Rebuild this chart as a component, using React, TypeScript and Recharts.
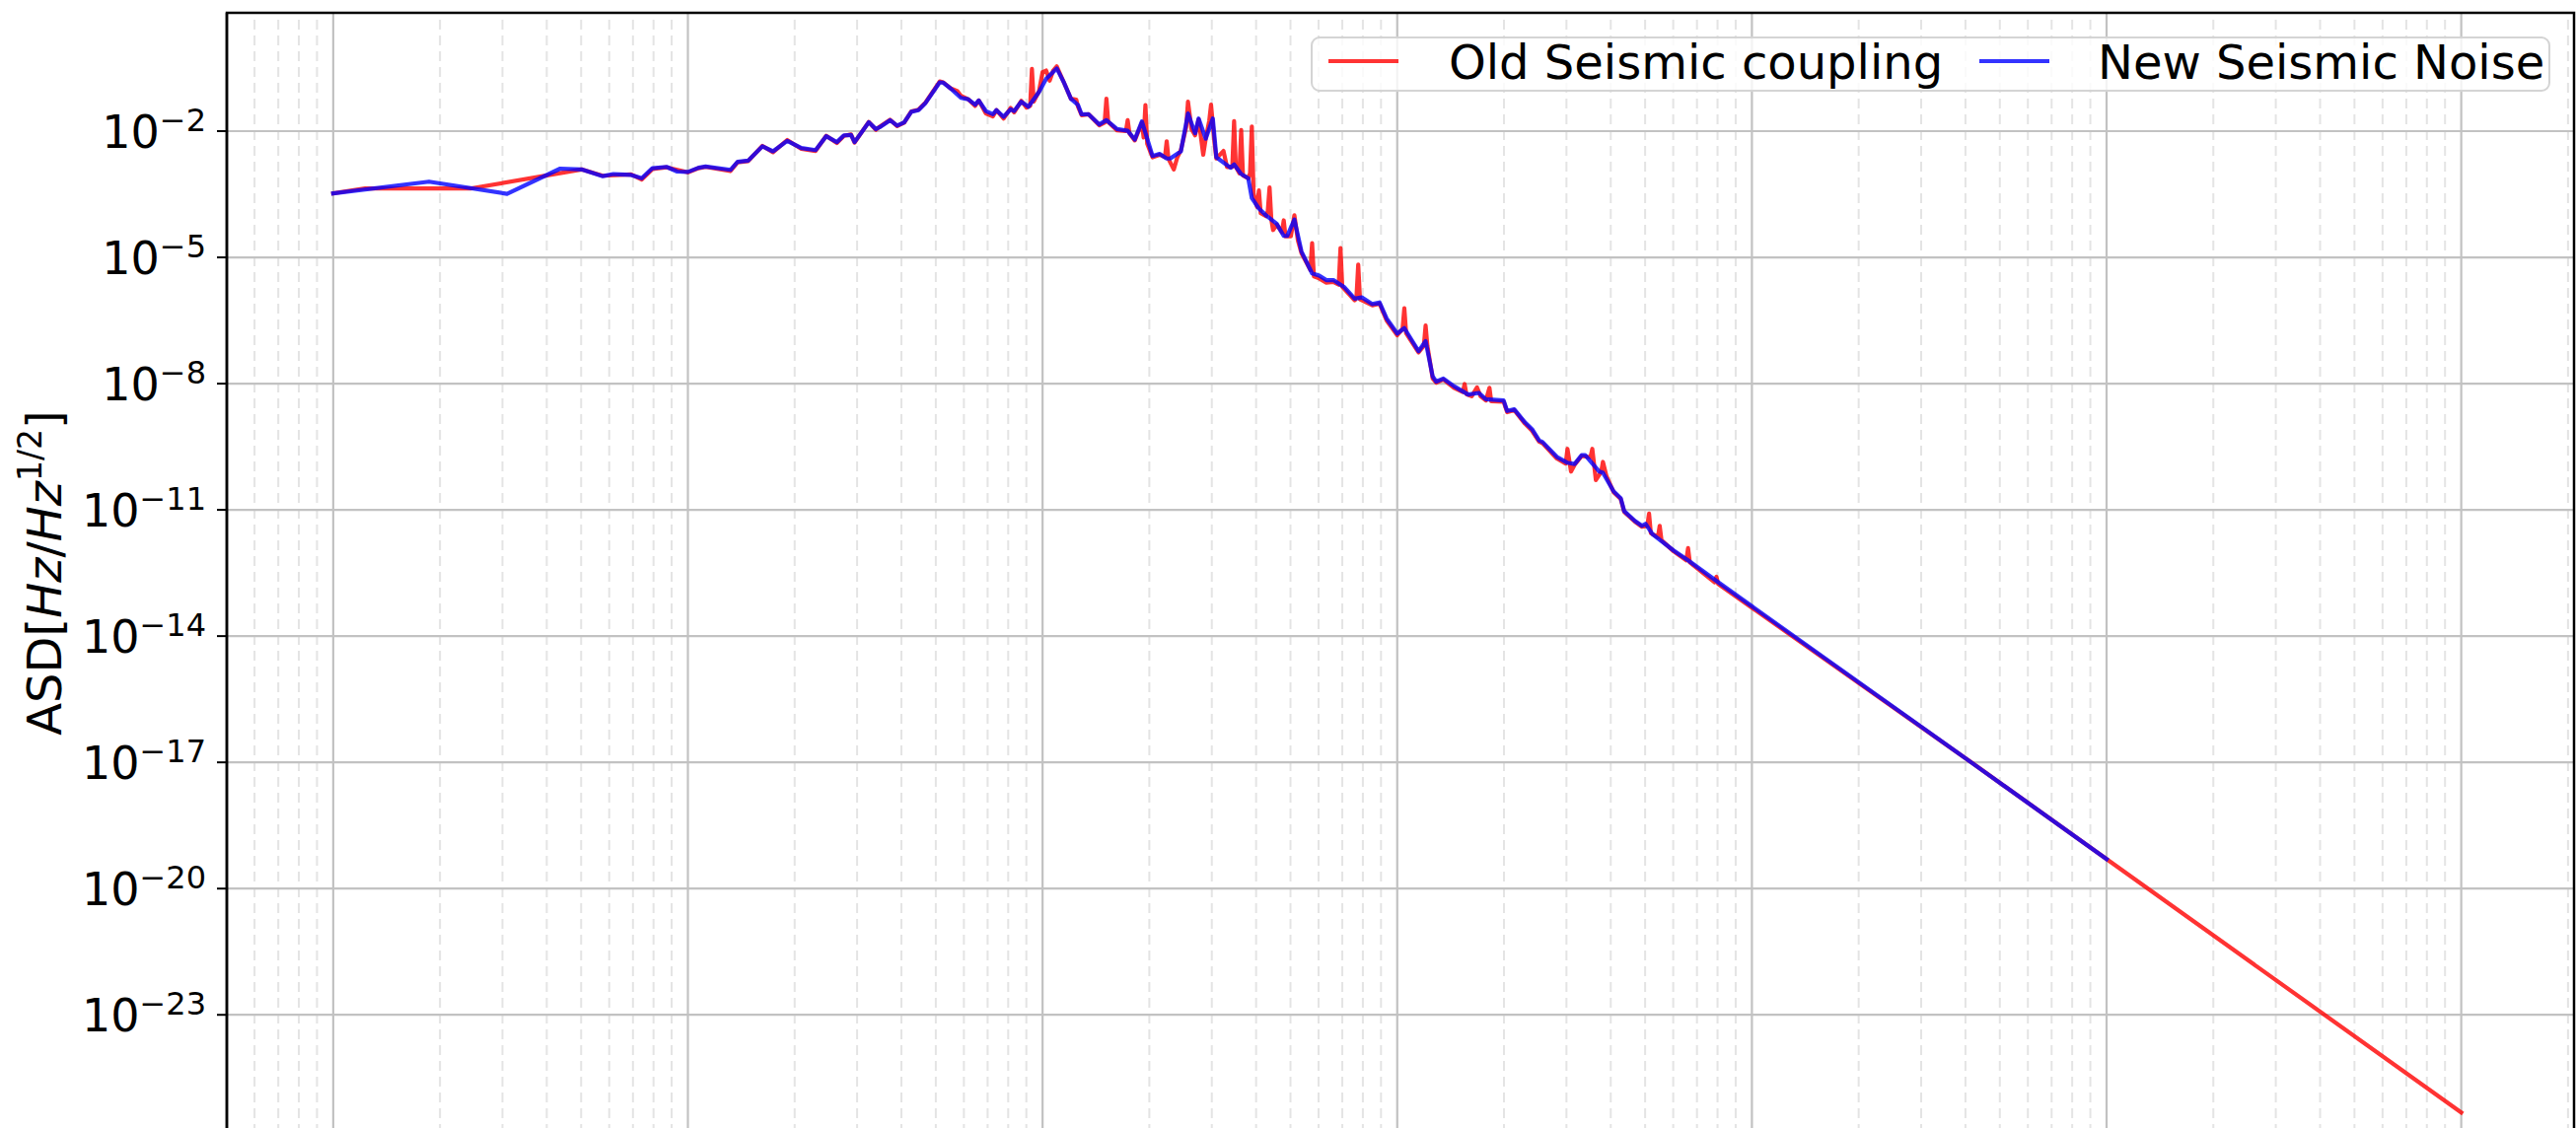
import React from 'react';
import { LineChart, Line, XAxis, YAxis, ReferenceLine, ReferenceArea, Legend } from 'recharts';

const FONT = '"DejaVu Sans", "Liberation Sans", sans-serif';

// points as [log10(freq), log10(ASD)]
const oldCoupling: [number, number][] = [
    [-3.0, -3.48], [-2.91, -3.36], [-2.61, -3.36], [-2.3, -2.91], [-2.24, -3.06], [-2.16, -3.03],
    [-2.13, -3.15], [-2.1, -2.9], [-2.06, -2.86], [-2.0, -2.98], [-1.97, -2.88], [-1.95, -2.85],
    [-1.88, -2.95], [-1.86, -2.74], [-1.83, -2.71], [-1.79, -2.35], [-1.76, -2.5], [-1.72, -2.21],
    [-1.68, -2.42], [-1.64, -2.47], [-1.61, -2.11], [-1.58, -2.28], [-1.56, -2.11], [-1.54, -2.08],
    [-1.53, -2.27], [-1.49, -1.78], [-1.47, -1.97], [-1.46, -1.9], [-1.43, -1.73], [-1.41, -1.88],
    [-1.39, -1.8], [-1.37, -1.53], [-1.35, -1.49], [-1.33, -1.32], [-1.29, -0.82], [-1.28, -0.84],
    [-1.26, -0.98], [-1.24, -1.05], [-1.23, -1.16], [-1.21, -1.24], [-1.19, -1.4], [-1.18, -1.27],
    [-1.16, -1.58], [-1.14, -1.65], [-1.13, -1.5], [-1.11, -1.7], [-1.09, -1.45], [-1.08, -1.55],
    [-1.06, -1.28], [-1.045, -1.44], [-1.035, -1.4], [-1.03, -0.52], [-1.025, -1.3], [-1.01, -1.05],
    [-1.0, -0.6], [-0.99, -0.56], [-0.98, -0.8], [-0.97, -0.56], [-0.96, -0.46], [-0.94, -0.84],
    [-0.92, -1.23], [-0.905, -1.25], [-0.9, -1.42], [-0.89, -1.62], [-0.87, -1.6], [-0.84, -1.86],
    [-0.825, -1.8], [-0.82, -1.23], [-0.815, -1.78], [-0.79, -1.98], [-0.765, -2.0], [-0.76, -1.74],
    [-0.755, -2.05], [-0.74, -2.22], [-0.72, -1.8], [-0.715, -2.15], [-0.71, -1.38], [-0.705, -2.3],
    [-0.69, -2.62], [-0.67, -2.56], [-0.655, -2.62], [-0.65, -2.24], [-0.645, -2.66], [-0.63, -2.91],
    [-0.62, -2.62], [-0.61, -2.45], [-0.595, -1.9], [-0.59, -1.3], [-0.58, -1.95], [-0.57, -2.1],
    [-0.56, -1.72], [-0.547, -2.56], [-0.54, -2.18], [-0.53, -1.75], [-0.525, -1.37], [-0.515, -2.3],
    [-0.51, -2.65], [-0.49, -2.47], [-0.48, -2.85], [-0.465, -2.85], [-0.46, -1.76], [-0.455, -2.85],
    [-0.445, -3.0], [-0.44, -1.97], [-0.435, -3.05], [-0.42, -3.12], [-0.415, -3.0], [-0.41, -1.89],
    [-0.405, -3.5], [-0.395, -3.8], [-0.39, -3.41], [-0.385, -3.95], [-0.37, -4.02], [-0.365, -3.9],
    [-0.36, -3.34], [-0.355, -4.1], [-0.35, -4.35], [-0.34, -4.22], [-0.325, -4.4], [-0.32, -4.12],
    [-0.315, -4.5], [-0.3, -4.5], [-0.29, -4.0], [-0.28, -4.6], [-0.27, -4.9], [-0.245, -5.3],
    [-0.24, -4.66], [-0.235, -5.45], [-0.22, -5.5], [-0.2, -5.6], [-0.18, -5.58], [-0.165, -5.65],
    [-0.16, -4.78], [-0.155, -5.7], [-0.12, -6.02], [-0.115, -5.95], [-0.11, -5.17], [-0.105, -6.0],
    [-0.07, -6.14], [-0.05, -6.1], [-0.03, -6.5], [0.0, -6.85], [0.015, -6.7], [0.02, -6.21],
    [0.025, -6.8], [0.06, -7.26], [0.075, -7.1], [0.08, -6.62], [0.085, -7.1], [0.1, -7.88],
    [0.11, -7.98], [0.13, -7.9], [0.16, -8.1], [0.185, -8.2], [0.19, -8.01], [0.195, -8.25],
    [0.21, -8.3], [0.225, -8.09], [0.235, -8.3], [0.25, -8.4], [0.26, -8.1], [0.265, -8.42],
    [0.3, -8.43], [0.31, -8.68], [0.33, -8.63], [0.36, -8.95], [0.38, -9.12], [0.4, -9.38],
    [0.41, -9.42], [0.45, -9.78], [0.475, -9.9], [0.48, -9.55], [0.49, -10.09], [0.5, -9.93],
    [0.52, -9.72], [0.545, -9.75], [0.55, -9.55], [0.56, -10.29], [0.575, -10.1], [0.58, -9.86],
    [0.59, -10.2], [0.61, -10.58], [0.63, -10.74], [0.64, -11.05], [0.67, -11.28], [0.69, -11.4],
    [0.705, -11.38], [0.71, -11.09], [0.715, -11.55], [0.735, -11.65], [0.74, -11.38], [0.745, -11.72],
    [0.78, -11.99], [0.815, -12.2], [0.82, -11.91], [0.825, -12.25], [0.895, -12.72], [0.9, -12.59],
    [0.905, -12.76], [1.62, -17.01], [2.0, -19.3], [3.0, -25.32],
];

const newNoise: [number, number][] = [
    [-3.0, -3.48], [-2.73, -3.2], [-2.51, -3.49], [-2.36, -2.89], [-2.3, -2.91], [-2.24, -3.07],
    [-2.21, -3.02], [-2.16, -3.04], [-2.13, -3.12], [-2.1, -2.88], [-2.06, -2.85], [-2.03, -2.96],
    [-2.0, -2.97], [-1.97, -2.87], [-1.95, -2.84], [-1.88, -2.92], [-1.86, -2.73], [-1.83, -2.7],
    [-1.79, -2.36], [-1.76, -2.48], [-1.72, -2.23], [-1.68, -2.4], [-1.64, -2.45], [-1.61, -2.12],
    [-1.58, -2.26], [-1.56, -2.1], [-1.54, -2.09], [-1.53, -2.26], [-1.49, -1.79], [-1.47, -1.95],
    [-1.46, -1.91], [-1.43, -1.74], [-1.41, -1.87], [-1.39, -1.79], [-1.37, -1.54], [-1.35, -1.5],
    [-1.33, -1.33], [-1.29, -0.84], [-1.28, -0.85], [-1.26, -0.98], [-1.23, -1.21], [-1.21, -1.24],
    [-1.19, -1.37], [-1.18, -1.27], [-1.16, -1.52], [-1.14, -1.6], [-1.13, -1.5], [-1.11, -1.66],
    [-1.09, -1.48], [-1.08, -1.52], [-1.06, -1.3], [-1.04, -1.42], [-1.01, -1.07], [-0.99, -0.76],
    [-0.96, -0.51], [-0.94, -0.84], [-0.92, -1.23], [-0.9, -1.38], [-0.89, -1.6], [-0.87, -1.6],
    [-0.84, -1.84], [-0.82, -1.74], [-0.79, -1.95], [-0.76, -1.99], [-0.74, -2.2], [-0.72, -1.77],
    [-0.69, -2.59], [-0.67, -2.54], [-0.65, -2.65], [-0.64, -2.65], [-0.61, -2.48], [-0.59, -1.58],
    [-0.57, -2.05], [-0.56, -1.7], [-0.54, -2.18], [-0.52, -1.7], [-0.51, -2.62], [-0.47, -2.87],
    [-0.46, -2.79], [-0.44, -3.02], [-0.42, -3.12], [-0.41, -3.59], [-0.39, -3.84], [-0.37, -4.0],
    [-0.34, -4.2], [-0.32, -4.49], [-0.31, -4.49], [-0.29, -4.1], [-0.27, -4.86], [-0.24, -5.38],
    [-0.22, -5.43], [-0.2, -5.54], [-0.18, -5.54], [-0.15, -5.7], [-0.12, -5.98], [-0.1, -5.95],
    [-0.07, -6.11], [-0.05, -6.07], [-0.03, -6.45], [0.0, -6.81], [0.02, -6.68], [0.06, -7.23],
    [0.08, -6.99], [0.1, -7.83], [0.11, -7.95], [0.13, -7.88], [0.16, -8.06], [0.2, -8.26],
    [0.23, -8.22], [0.25, -8.37], [0.3, -8.4], [0.31, -8.65], [0.33, -8.61], [0.36, -8.92],
    [0.38, -9.08], [0.4, -9.35], [0.41, -9.39], [0.45, -9.74], [0.48, -9.88], [0.5, -9.91],
    [0.52, -9.7], [0.53, -9.7], [0.57, -10.09], [0.58, -10.12], [0.61, -10.56], [0.63, -10.72],
    [0.64, -11.03], [0.67, -11.26], [0.69, -11.38], [0.7, -11.33], [0.72, -11.58], [0.78, -11.97],
    [0.82, -12.2], [0.91, -12.75], [1.62, -17.01], [2.0, -19.3],
];

const decades = [1e-3, 1e-2, 1e-1, 1, 10, 100, 1000];
const minorSteps = [2, 3, 4, 5, 6, 7, 8, 9];
const yTicks = [1e-2, 1e-5, 1e-8, 1e-11, 1e-14, 1e-17, 1e-20, 1e-23];

// plot runs a little past the bottom of the page, so its lower spine is cut off
const xDomain: [number, number] = [10 ** -3.3, 10 ** 3.318];
const yDomain: [number, number] = [10 ** -25.83, 10 ** 0.812];

const minorFreqs = [1e-4, ...decades].flatMap(d => minorSteps.map(m => d * m));
const toRows = (pts: [number, number][]) => pts.map(([lf, la]) => ({ f: 10 ** lf, asd: 10 ** la }));
const oldRows = toRows(oldCoupling);
const newRows = toRows(newNoise);

const PowTick = ({ x, y, payload }: any) => {
    const exp = Math.round(Math.log10(payload.value));
    return (
        <text x={x} y={y + 17} textAnchor="end" fontFamily={FONT} fill="#000">
            <tspan fontSize={46}>10</tspan>
            <tspan fontSize={32} dy={-17.5}>{'\u2212' + Math.abs(exp)}</tspan>
        </text>
    );
};

const YTitle = () => (
    <text transform="rotate(-90 62 581)" x={62} y={581} textAnchor="middle" fontFamily={FONT} fontSize={48} fill="#000">
        ASD[<tspan fontStyle="italic">Hz</tspan>/<tspan fontStyle="italic">Hz</tspan>
        <tspan fontSize={33} dy={-20}>1/2</tspan>
        <tspan dy={20}>]</tspan>
    </text>
);

// legend box sits at (1329, 37) in the page, 1257 x 56; svg has 12px of padding around it
const LegendBox = () => (
    <svg width={1281} height={80} style={{ display: 'block', overflow: 'visible' }}>
        <g transform="translate(12 12)">
            <rect x={1} y={1} width={1255} height={54} rx={8} fill="#fff" fillOpacity={0.8} stroke="#d4d4d4" strokeWidth={2} />
            <line x1={18} x2={89} y1={25} y2={25} stroke="#ff0000" strokeOpacity={0.8} strokeWidth={4.2} />
            <text x={140} y={43} fontFamily={FONT} fontSize={48} fill="#000">Old Seismic coupling</text>
            <line x1={678} x2={749} y1={25} y2={25} stroke="#0000ff" strokeOpacity={0.8} strokeWidth={4.2} />
            <text x={798} y={43} fontFamily={FONT} fontSize={48} fill="#000">New Seismic Noise</text>
        </g>
    </svg>
);

const App: React.FC = () => {
    return (
        <div style={{ position: 'absolute', left: 0, top: 0, width: 2612, height: 1144, overflow: 'hidden', background: '#fff' }}>
            <LineChart width={2612} height={1150} margin={{ top: 13, right: 2, bottom: 0, left: 0 }}>
                <XAxis xAxisId="x" type="number" dataKey="f" scale="log" domain={xDomain} allowDataOverflow hide />
                <YAxis yAxisId="y" type="number" scale="log" domain={yDomain} allowDataOverflow ticks={yTicks}
                    interval={0} width={230} tickSize={10} tickMargin={11} tick={<PowTick />}
                    axisLine={{ stroke: '#000', strokeWidth: 2.5 }} tickLine={{ stroke: '#000', strokeWidth: 2 }}
                    label={<YTitle />} />

                {minorFreqs.map(f => (
                    <ReferenceLine key={'mx' + f} xAxisId="x" yAxisId="y" x={f} stroke="#e4e4e4"
                        strokeWidth={2} strokeDasharray="10 6" ifOverflow="discard" zIndex={-100} />
                ))}
                {decades.map(f => (
                    <ReferenceLine key={'x' + f} xAxisId="x" yAxisId="y" x={f} stroke="#c2c2c2"
                        strokeWidth={2.2} ifOverflow="discard" zIndex={-100} />
                ))}
                {yTicks.map(v => (
                    <ReferenceLine key={'y' + v} xAxisId="x" yAxisId="y" y={v} stroke="#c2c2c2"
                        strokeWidth={2.2} ifOverflow="discard" zIndex={-100} />
                ))}

                <Line xAxisId="x" yAxisId="y" data={oldRows} dataKey="asd" name="Old Seismic coupling" type="linear"
                    stroke="#ff0000" strokeOpacity={0.8} strokeWidth={4.2} strokeLinejoin="round" strokeLinecap="square"
                    dot={false} activeDot={false} isAnimationActive={false} />
                <Line xAxisId="x" yAxisId="y" data={newRows} dataKey="asd" name="New Seismic Noise" type="linear"
                    stroke="#0000ff" strokeOpacity={0.8} strokeWidth={4.2} strokeLinejoin="round" strokeLinecap="square"
                    dot={false} activeDot={false} isAnimationActive={false} />

                {/* plot frame (top and right spines) */}
                <ReferenceArea xAxisId="x" yAxisId="y" x1={xDomain[0]} x2={xDomain[1]} y1={yDomain[0]} y2={yDomain[1]}
                    fill="none" fillOpacity={0} stroke="#000" strokeWidth={2.5} strokeOpacity={1} ifOverflow="visible" />

                <Legend layout="horizontal" verticalAlign="middle" align="center" content={() => <LegendBox />}
                    wrapperStyle={{ position: 'absolute', top: 25, left: 1317, width: 1281, height: 80 }} />
            </LineChart>
        </div>
    );
};

export default App;
